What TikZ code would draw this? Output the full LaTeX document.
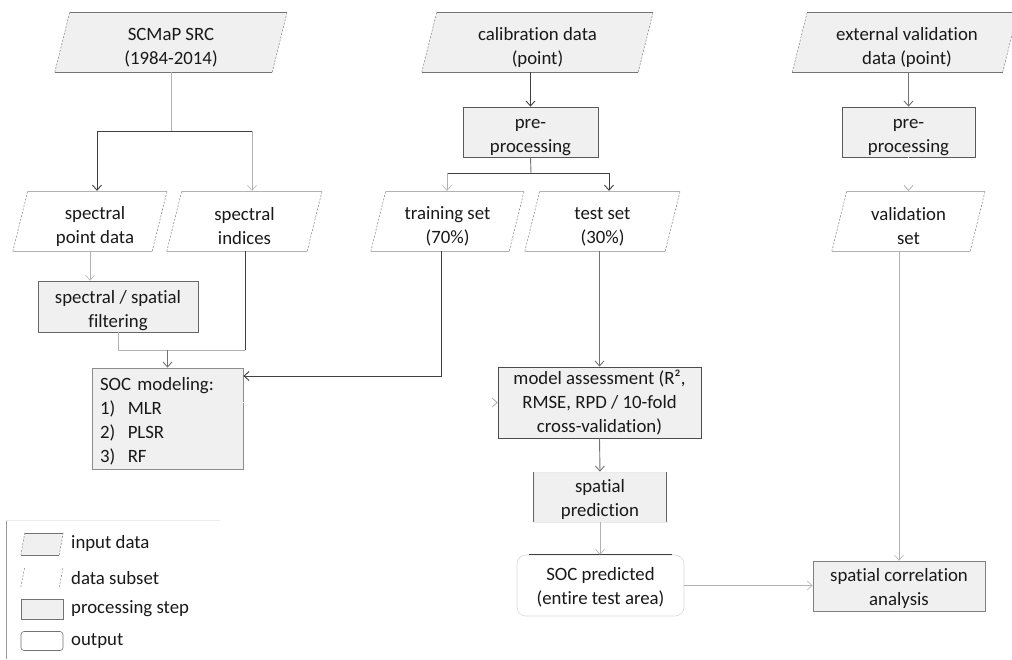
\documentclass[tikz,border=0pt]{standalone}
\usepackage{fontspec}
\setmainfont{Carlito}[RawFeature=-liga]
\usetikzlibrary{calc,arrows.meta,backgrounds}
\definecolor{boxfill}{gray}{0.94}
\tikzset{
  x=1pt, y=-1pt,
  every node/.style={font=\fontsize{18.8}{24}\selectfont, text=black!90},
  base/.style={inner sep=0pt, align=center},
  txt/.style={inner sep=0pt, align=center},
  para/.style={base},
  proc/.style={base, fill=boxfill, draw=black!65, line width=0.8pt},
  dk/.style={draw=black!75, line width=0.9pt},
  md/.style={draw=black!55, line width=0.9pt},
  lt/.style={draw=black!30, line width=0.6pt},
  arr/.style={-{Straight Barb[length=5pt,width=9pt]}},
  ghost/.style={draw=white, line width=0.6pt, -{Straight Barb[length=5pt,width=9pt,color=black!40]}},
}
\newcommand\drawpara[4]{%
  \begin{scope}[on background layer]
    \path[fill=#2] ($(#1.south west)+(-#3,0)$) -- ($(#1.north west)+(#3,0)$) -- ($(#1.north east)+(#3,0)$) -- ($(#1.south east)+(-#3,0)$) -- cycle;
    \draw[#4, line width=0.6pt] ($(#1.south west)+(-#3,0)$) -- ($(#1.south east)+(-#3,0)$);
    \draw[#4, line width=0.6pt] ($(#1.north west)+(#3,0)$) -- ($(#1.north east)+(#3,0)$);
    \draw[black!50, line width=0.5pt, dash pattern=on 2pt off 1.5pt] ($(#1.south west)+(-#3,0)$) -- ($(#1.north west)+(#3,0)$);
    \draw[black!50, line width=0.5pt, dash pattern=on 2pt off 1.5pt] ($(#1.south east)+(-#3,0)$) -- ($(#1.north east)+(#3,0)$);
  \end{scope}}
\begin{document}
\begin{tikzpicture}
\useasboundingbox (0,0) rectangle (1012,659);
\begin{scope}[on background layer]
\fill[white] (0,0) rectangle (1012,659);
\end{scope}

% input data
\node[para, minimum width=217, minimum height=60, label={[txt,yshift=-5.5pt]center:{SCMaP SRC\\(1984-2014)}}] (scm) at (171,42) {};
\drawpara{scm}{boxfill}{7.5}{black!55}
\node[para, minimum width=216, minimum height=60, label={[txt,yshift=-5pt]center:{calibration data\\(point)}}] (cal) at (537.5,42) {};
\drawpara{cal}{boxfill}{7.5}{black!55}
\node[para, minimum width=210, minimum height=60, label={[txt,xshift=2pt,yshift=-5pt]center:{external validation\\data (point)}}] (ext) at (905,42) {};
\drawpara{ext}{boxfill}{7.5}{black!55}

% processing
\node[proc, minimum width=135, minimum height=50, label={[txt,yshift=-5.5pt]center:{pre-\\processing}}] (pre1) at (530.5,132) {};
\node[proc, minimum width=133, minimum height=50, label={[txt,yshift=-5.5pt]center:{pre-\\processing}}] (pre2) at (908.5,132) {};

% subsets
\node[para, minimum width=139, minimum height=60, label={[txt,xshift=5pt,yshift=-5.5pt]center:{spectral\\point data}}] (spd) at (90,221) {};
\drawpara{spd}{white}{7.5}{black!30}
\node[para, minimum width=140, minimum height=60, label={[txt,yshift=-5.5pt]center:{spectral\\indices}}] (spi) at (244.5,221) {};
\drawpara{spi}{white}{7.5}{black!30}
\node[para, minimum width=138, minimum height=60, label={[txt,yshift=-5.5pt]center:{training set\\(70\%)}}] (trn) at (447.5,221) {};
\drawpara{trn}{white}{7.5}{black!30}
\node[para, minimum width=140, minimum height=60, label={[txt,yshift=-5.5pt]center:{test set\\(30\%)}}] (tst) at (602.5,221) {};
\drawpara{tst}{white}{7.5}{black!30}
\node[para, minimum width=138, minimum height=60, label={[txt,yshift=-5.5pt]center:{validation\\set}}] (val) at (908.5,221) {};
\drawpara{val}{white}{7.5}{black!30}

\node[proc, draw=black!60, minimum width=160, minimum height=51, label={[txt,yshift=-4pt]center:{spectral / spatial\\filtering}}] (filt) at (118,306.5) {};
\node[proc, draw=black!45, minimum width=151, minimum height=101, label={[txt,align=left,text width=135,yshift=-3pt]center:{SOC modeling:\\1)\ \ MLR\\2)\ \ PLSR\\3)\ \ RF}}] (soc) at (167.5,418.5) {};
\node[proc, draw=black!70, minimum width=203, minimum height=71, label={[txt]center:{model assessment (R², \\RMSE, RPD / 10-fold\\cross-validation)}}] (ma) at (599.5,402.5) {};
\node[proc, draw=black!8, minimum width=132, minimum height=50, label={[txt,yshift=-2pt]center:{spatial\\prediction}}] (sp) at (600,497) {};
\draw[black!60, line width=0.7pt] (sp.south west) -- (sp.north west) (sp.south east) -- (sp.north east);
\node[base, draw=black!15, rounded corners=9pt, line width=0.6pt, minimum width=167, minimum height=61, label={[txt,yshift=-2pt]center:{SOC predicted\\(entire test area)}}] (socp) at (600.5,585.5) {};
\draw[black!75, line width=0.7pt] ($(socp.north west)+(12,0)$) -- ($(socp.north east)+(-12,0)$);
\node[proc, draw=black!50, minimum width=172, minimum height=50, label={[txt,yshift=-2pt]center:{spatial correlation\\analysis}}] (sca) at (899,586) {};

% connectors
\coordinate (j1) at (171,131);
\coordinate (j1l) at (97,131);
\coordinate (j1r) at (252,131);
\draw[lt] (scm.south) -- (j1);
\draw[dk] (j1l) -- (j1r);
\draw[dk,arr] (j1l) -- (j1l |- spd.north);
\draw[lt,arr] (j1r) -- (j1r |- spi.north);

\draw[dk,arr] (pre1.north |- cal.south) -- (pre1.north);
\coordinate (j2) at (531,173);
\coordinate (j2l) at (447,173);
\coordinate (j2r) at (609,173);
\draw[md] (pre1.south) -- (j2);
\draw[dk] (j2l) -- (j2r);
\draw[lt,arr] (j2l) -- (j2l |- trn.north);
\draw[dk,arr] (j2r) -- (j2r |- tst.north);

\draw[md,arr] (pre2.north |- ext.south) -- (pre2.north);
\draw[ghost] (pre2.south) -- (pre2.south |- val.north);

\draw[lt,arr] (spd.south) -- (spd.south |- filt.north);
\coordinate (j3) at (118,350);
\coordinate (j3r) at (245,350);
\draw[lt] (filt.south) -- (j3) -- (j3r);
\draw[dk] (j3r |- spi.south) -- (j3r);
\draw[md,arr] (soc.north |- j3) -- (soc.north);

\coordinate (j4) at (441,376);
\draw[dk,arr] (j4 |- trn.south) -- (j4) -- (j4 -| soc.east);
\draw[ghost] (soc.east |- ma.west) -- (ma.west);

\draw[md,arr] (ma.north |- tst.south) -- (ma.north);
\draw[md,arr] (ma.south) -- (sp.north);
\draw[lt,arr] (sp.south) -- (sp.north |- socp.north);
\draw[lt,arr] (socp.east) -- (socp.east -| sca.west);
\draw[lt,arr] (sca.north |- val.south) -- (sca.north);

% legend
\coordinate (lgA) at (6,520);
\coordinate (lgB) at (6,659);
\coordinate (lgC) at (220,520);
\draw[black!40, line width=0.7pt] (lgA) -- (lgB);
\draw[black!7, line width=0.6pt] (lgA) -- (lgC);
\node[para, minimum width=38, minimum height=22] (lg1) at (42,544) {};
\drawpara{lg1}{boxfill}{2}{black!55}
\node[para, minimum width=38, minimum height=20] (lg2) at (42,577) {};
\begin{scope}[on background layer]
\draw[black!50, line width=0.5pt, dash pattern=on 2pt off 1.5pt] ($(lg2.south west)+(-2,0)$) -- ($(lg2.north west)+(2,0)$);
\draw[black!50, line width=0.5pt, dash pattern=on 2pt off 1.5pt] ($(lg2.south east)+(-2,0)$) -- ($(lg2.north east)+(2,0)$);
\end{scope}
\node[proc, draw=black!55, line width=0.6pt, minimum width=42, minimum height=20] (lg3) at (42,609) {};
\node[base, draw=black!55, line width=0.6pt, rounded corners=3pt, minimum width=42, minimum height=19] (lg4) at (42,641) {};
\node[anchor=west, inner sep=0pt] (lgt1) at (71,543) {input data};
\node[anchor=west, inner sep=0pt] (lgt2) at (71,578) {data subset};
\node[anchor=west, inner sep=0pt] (lgt3) at (71,609) {processing step};
\node[anchor=west, inner sep=0pt] (lgt4) at (71,641) {output};
\end{tikzpicture}
\end{document}
